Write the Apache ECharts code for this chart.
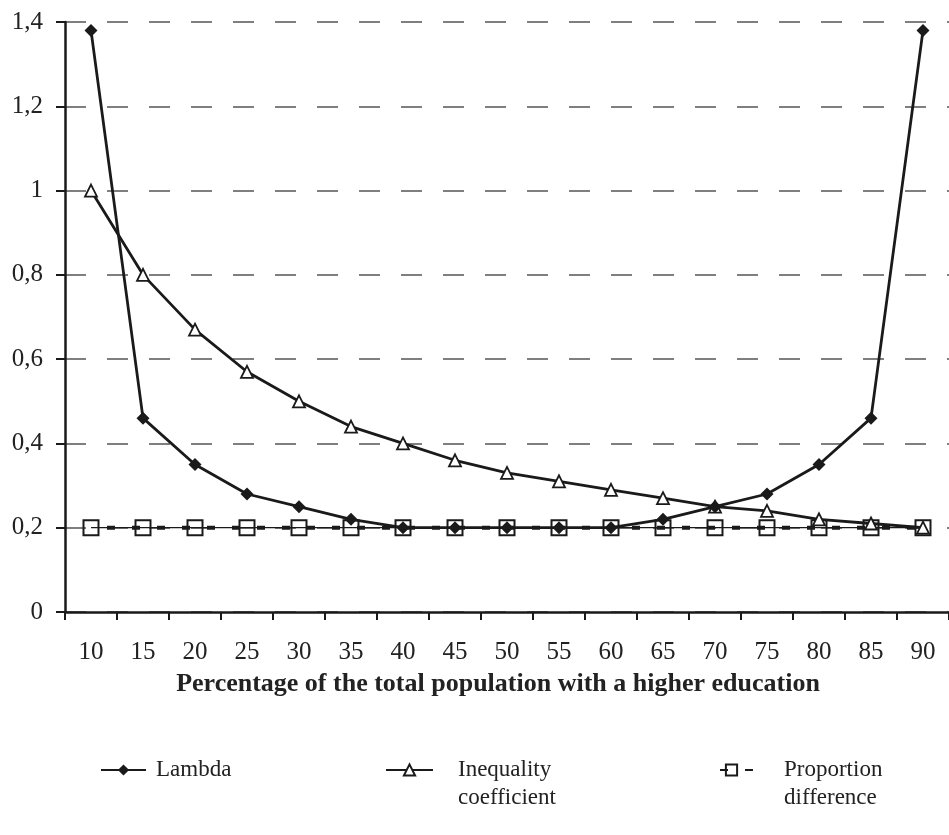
<!DOCTYPE html>
<html><head><meta charset="utf-8">
<script src="https://cdn.jsdelivr.net/npm/echarts@6/dist/echarts.min.js"></script>
<style>html,body{margin:0;padding:0;background:#fff}#c{width:949px;height:835px}</style>
</head><body><div id="c"></div>
<script>
const categories = ['10','15','20','25','30','35','40','45','50','55','60','65','70','75','80','85','90'];
const lambda = [1.38,0.46,0.35,0.28,0.25,0.22,0.20,0.20,0.20,0.20,0.20,0.22,0.25,0.28,0.35,0.46,1.38];
const inequality = [1.00,0.80,0.67,0.57,0.50,0.44,0.40,0.36,0.33,0.31,0.29,0.27,0.25,0.24,0.22,0.21,0.20];
const proportion = [0.2,0.2,0.2,0.2,0.2,0.2,0.2,0.2,0.2,0.2,0.2,0.2,0.2,0.2,0.2,0.2,0.2];
const xTitle = 'Percentage of the total population with a higher education';

const FONT = "'Liberation Serif', 'DejaVu Serif', serif";
const INK = '#1a1a1a';
const chart = echarts.init(document.getElementById('c'));
const legendText = {fontFamily: FONT, fontSize: 23, color: '#222', lineHeight: 28};
chart.setOption({
  backgroundColor: '#fff',
  animation: false,
  grid: {left: 65, right: -7, top: 22, bottom: 223, containLabel: false},
  xAxis: {
    type: 'category', data: categories, boundaryGap: true,
    axisLine: {lineStyle: {color: INK, width: 2.5}},
    axisTick: {show: true, length: 8, lineStyle: {color: INK, width: 2}},
    axisLabel: {fontFamily: FONT, fontSize: 25, color: '#222', margin: 28, interval: 0},
    name: xTitle, nameLocation: 'middle', nameGap: 59,
    nameTextStyle: {fontFamily: FONT, fontSize: 26, fontWeight: 'bold', color: '#222', padding: [0, 18, 0, 0]}
  },
  yAxis: {
    type: 'value', min: 0, max: 1.4, interval: 0.2,
    axisLine: {show: true, lineStyle: {color: INK, width: 2.5}},
    axisTick: {show: true, length: 9, lineStyle: {color: INK, width: 2}},
    axisLabel: {fontFamily: FONT, fontSize: 25, color: '#222', margin: 22,
      formatter: v => String(Math.round(v * 10) / 10).replace('.', ',')},
    splitLine: {show: true, lineStyle: {color: '#555', width: 1.5, type: [21, 21]}}
  },
  legend: [
    {data: ['Lambda'], left: 100, top: 756, padding: 0, itemWidth: 45, itemHeight: 14,
      textStyle: Object.assign({}, legendText, {padding: [0, 0, 0, 5]})},
    {data: ['Inequality coefficient'], left: 385, top: 728, padding: 0, itemWidth: 47, itemHeight: 14,
      formatter: () => '\nInequality\ncoefficient',
      textStyle: Object.assign({}, legendText, {padding: [0, 0, 0, 20]})},
    {data: ['Proportion difference'], left: 703, top: 728, padding: 0, itemWidth: 55, itemHeight: 14,
      formatter: () => '\nProportion\ndifference',
      textStyle: Object.assign({}, legendText, {padding: [0, 0, 0, 20]})}
  ],
  series: [
    {name: 'proportion-thin', type: 'line', data: proportion, z: 2, symbol: 'none',
      lineStyle: {color: INK, width: 1.2}, tooltip: {show: false}},
    {name: 'Proportion difference', type: 'line', data: proportion, z: 2,
      symbol: 'rect', symbolSize: 15,
      itemStyle: {color: 'rgba(255,255,255,0)', borderColor: INK, borderWidth: 2},
      lineStyle: {color: INK, width: 4, type: [8, 17], dashOffset: -16}},
    {name: 'Inequality coefficient', type: 'line', data: inequality, z: 3,
      symbol: 'triangle', symbolSize: 12,
      itemStyle: {color: '#fff', borderColor: INK, borderWidth: 1.8},
      lineStyle: {color: INK, width: 2.8}},
    {name: 'Lambda', type: 'line', data: lambda, z: 4,
      symbol: 'diamond', symbolSize: 13,
      itemStyle: {color: INK, borderColor: INK, borderWidth: 0},
      lineStyle: {color: INK, width: 2.8}}
  ]
});
</script></body></html>
